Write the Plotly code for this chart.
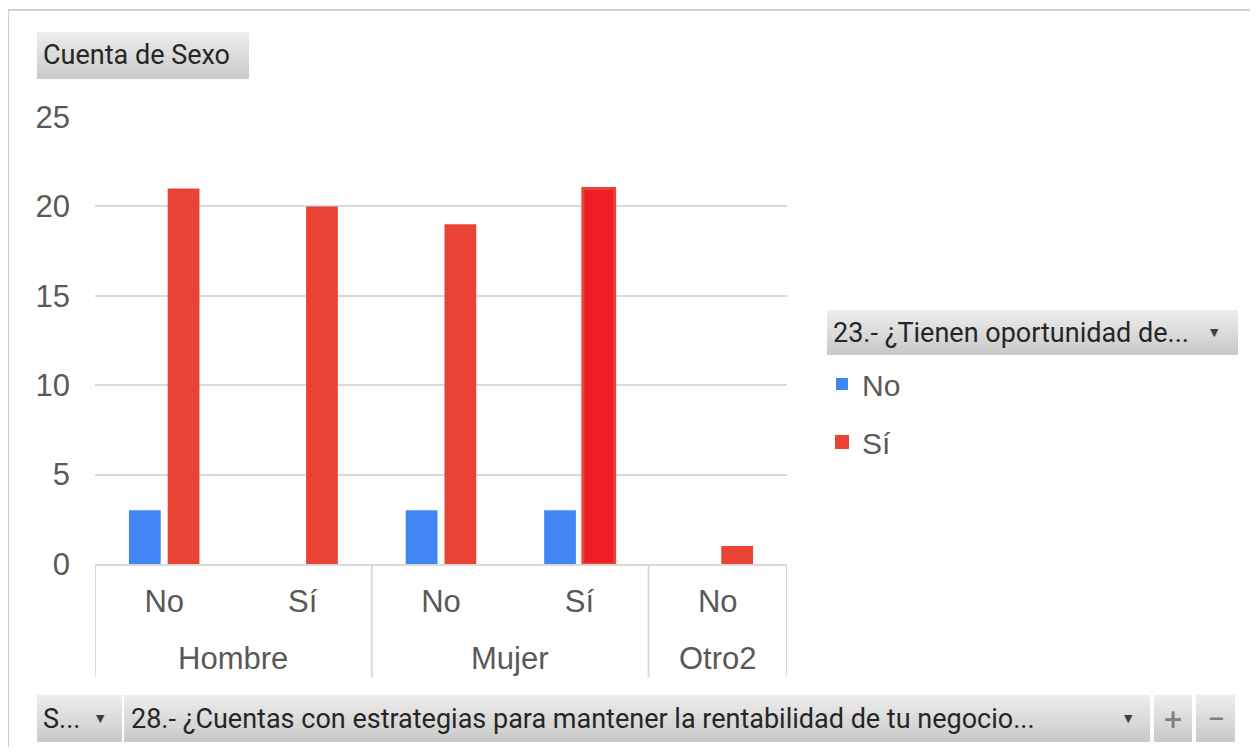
import plotly.graph_objects as go

# ---- data ----
groups = ["Hombre", "Hombre", "Mujer", "Mujer", "Otro2"]
subcats = ["No", "Sí", "No", "Sí", "No"]
series_names = ["No", "Sí"]
values_no = [3, 0, 3, 3, 0]
values_si = [21, 20, 19, 21, 1]
y_ticks = [0, 5, 10, 15, 20, 25]

legend_title = "23.- ¿Tienen oportunidad de..."
value_button = "Cuenta de Sexo"
axis_button_1 = "S..."
axis_button_2 = "28.- ¿Cuentas con estrategias para mantener la rentabilidad de tu negocio..."

# ---- layout geometry (page pixels; the page body has an 8px margin) ----
OFF = 8
W, H = 1258 - OFF, 755 - 2 * OFF
L, R, T, B = 95, 787, 117, 564
PW, PH = R - L, B - T

def px(x):
    return (x - L) / PW

def py(y):
    return (B - y) / PH

BLUE = "#4285F4"
RED = "#EA4335"
RED_SEL = "#EE1D24"
AXIS_TXT = "#595959"
GRID = "#d9d9d9"
BTN_FONT = "Roboto, sans-serif"
AX_FONT = "Liberation Sans, Arial, sans-serif"

idx = list(range(len(subcats)))
# the selected (highlighted) bar in the original pivot chart
si_fill = [RED_SEL if (groups[i], subcats[i]) == ("Mujer", "Sí") else RED for i in idx]
si_line = [3 if (groups[i], subcats[i]) == ("Mujer", "Sí") else 0 for i in idx]

fig = go.Figure()
fig.add_trace(go.Bar(x=idx, y=values_no, name=series_names[0], marker_color=BLUE,
                     marker_line_width=0, legendgroup="a"))
fig.add_trace(go.Bar(x=idx, y=values_si, name=series_names[1],
                     marker=dict(color=si_fill, line=dict(color=RED, width=si_line)),
                     legendgroup="b"))

shapes = []
annotations = []

# outer chart border
shapes.append(dict(type="rect", xref="paper", yref="paper",
                   x0=px(8), x1=px(1255), y0=py(10), y1=py(770),
                   line=dict(color="#d0d0d0", width=2), fillcolor="rgba(0,0,0,0)", layer="below"))

# group dividers (boundaries derived from the group list)
bounds = [-0.5]
for i in range(1, len(groups)):
    if groups[i] != groups[i - 1]:
        bounds.append(i - 0.5)
bounds.append(len(groups) - 0.5)
for b in bounds:
    shapes.append(dict(type="line", xref="x", yref="paper", x0=b, x1=b,
                       y0=0, y1=py(677), line=dict(color=GRID, width=2)))

# group labels
order = []
for g in groups:
    if g not in order:
        order.append(g)
for g in order:
    pos = [i for i, gg in enumerate(groups) if gg == g]
    annotations.append(dict(x=sum(pos) / len(pos), y=py(658), xref="x", yref="paper",
                            text=g, showarrow=False, xanchor="center", yanchor="middle",
                            font=dict(family=AX_FONT, size=31, color=AXIS_TXT)))


def button(x0, y0, x1, y1, text=None, tx=None, arrow_x=None, color="#262626",
           center=False, size=27):
    n = 10
    h = (y1 - y0) / n
    for k in range(n):
        c = int(236 - k * (236 - 203) / (n - 1))
        shapes.append(dict(type="rect", xref="paper", yref="paper",
                           x0=px(x0), x1=px(x1),
                           y0=py(min(y1, y0 + h * (k + 1) + 0.6)), y1=py(y0 + h * k),
                           line=dict(width=0), fillcolor=f"rgb({c},{c},{c})", layer="below"))
    if text is not None:
        if center:
            annotations.append(dict(x=px((x0 + x1) / 2), y=py((y0 + y1) / 2), xref="paper",
                                    yref="paper", text=text, showarrow=False,
                                    xanchor="center", yanchor="middle",
                                    font=dict(family=BTN_FONT, size=size, color=color)))
        else:
            annotations.append(dict(x=px(tx), y=py((y0 + y1) / 2), xref="paper", yref="paper",
                                    text=text, showarrow=False, xanchor="left",
                                    yanchor="middle",
                                    font=dict(family=BTN_FONT, size=size, color=color)))
    if arrow_x is not None:
        annotations.append(dict(x=px(arrow_x), y=py((y0 + y1) / 2), xref="paper", yref="paper",
                                text="▼", showarrow=False, xanchor="center", yanchor="middle",
                                font=dict(family="DejaVu Sans", size=11, color="#404040")))


button(37, 32, 249, 79, value_button, tx=41)
button(827, 310, 1238, 355, legend_title, tx=831, arrow_x=1214)
button(37, 695, 122, 742, axis_button_1, tx=41, arrow_x=100)
button(124, 695, 1150, 742, axis_button_2, tx=129, arrow_x=1128)
button(1154, 695, 1192, 742, "+", color="#7f7f7f", center=True, size=32)
button(1196, 695, 1235, 742, "−", color="#7f7f7f", center=True, size=32)

fig.update_layout(
    width=W, height=H,
    margin=dict(l=L - OFF, r=W - (R - OFF), t=T - OFF, b=H - (B - OFF), pad=0),
    paper_bgcolor="white", plot_bgcolor="white",
    barmode="group", bargap=0.44, bargroupgap=0.18,
    showlegend=True,
    legend=dict(x=px(822), y=py(358), xanchor="left", yanchor="top",
                font=dict(family=AX_FONT, size=30, color=AXIS_TXT),
                tracegroupgap=16, itemsizing="constant", bgcolor="rgba(0,0,0,0)"),
    shapes=shapes, annotations=annotations,
    xaxis=dict(tickmode="array", tickvals=idx, ticktext=subcats,
               range=[-0.5, len(idx) - 0.5], showgrid=False, zeroline=False,
               showline=True, linecolor=GRID, linewidth=2, ticks="",
               ticklabelstandoff=9,
               tickfont=dict(family=AX_FONT, size=31, color=AXIS_TXT)),
    yaxis=dict(range=[0, 25], tickvals=y_ticks, showgrid=True, gridcolor=GRID, gridwidth=2,
               zeroline=False, showline=False, ticks="", ticklabelstandoff=24,
               tickfont=dict(family=AX_FONT, size=31, color=AXIS_TXT)),
)

fig.write_html("out.html")
